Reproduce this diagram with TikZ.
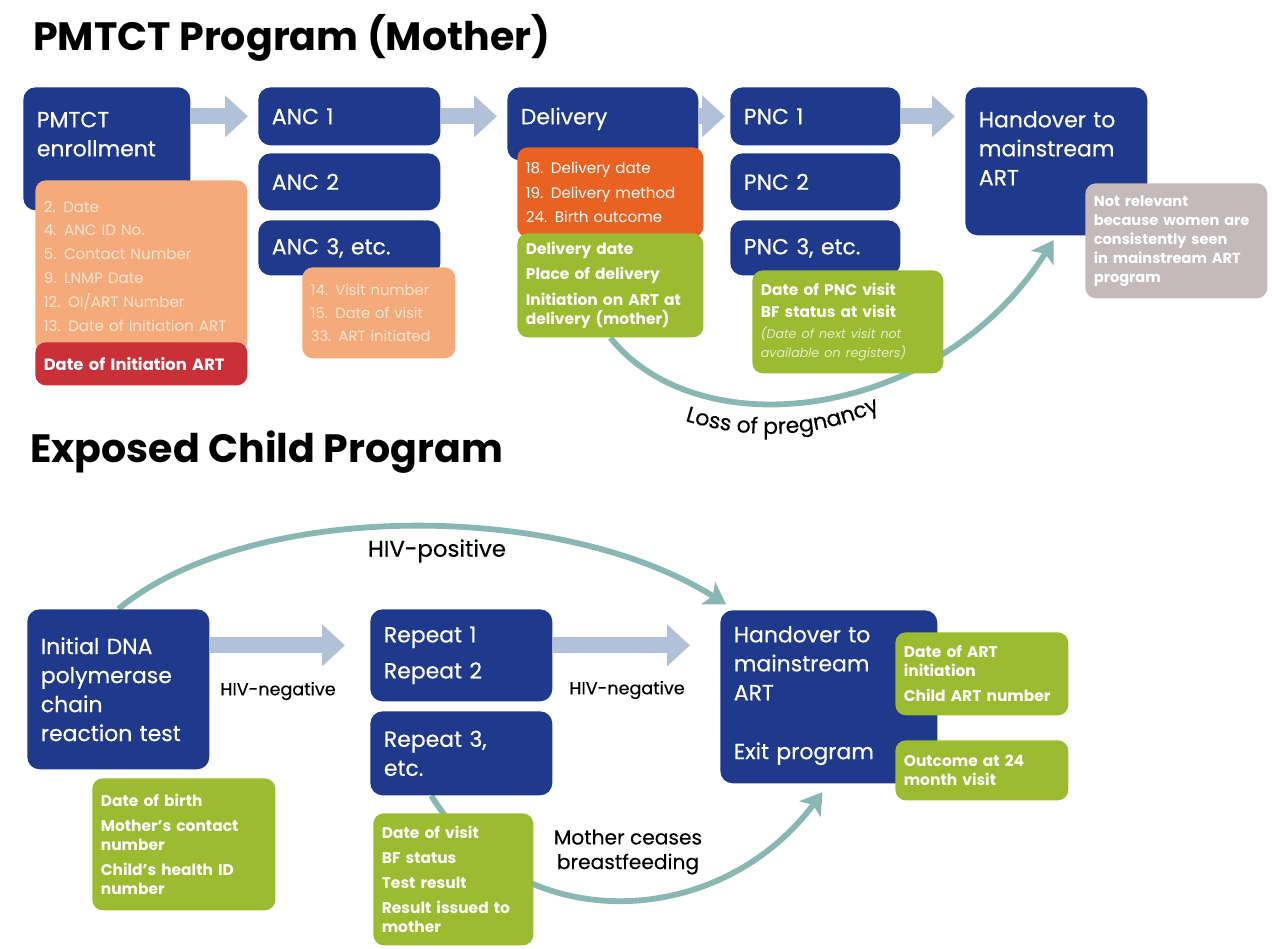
\documentclass[tikz,border=0pt]{standalone}
\usepackage{fontspec}
\setmainfont{Poppins}
\usetikzlibrary{arrows.meta,decorations.text}

\definecolor{stageblue}{RGB}{31,57,140}
\definecolor{recgreen}{RGB}{155,187,48}
\definecolor{recpeach}{RGB}{244,170,122}
\definecolor{peachtext}{RGB}{253,228,208}
\definecolor{recorange}{RGB}{234,98,34}
\definecolor{recred}{RGB}{202,48,56}
\definecolor{recgrey}{RGB}{196,186,187}
\definecolor{flowgrey}{RGB}{177,194,216}
\definecolor{linkteal}{RGB}{137,183,180}

\pgfdeclarelayer{background}
\pgfsetlayers{background,main}

\begin{document}
\begin{tikzpicture}[x=0.02cm, y=-0.02cm,
    stage/.style={
      rounded corners=7pt,
      fill=stageblue,
      text=white,
      anchor=north west,
      align=left,
      inner xsep=0.27cm,
      inner ysep=0.2cm,
      font=\fontsize{12.5}{16.5}\selectfont\addfontfeature{FakeBold=0.4}
    },
    record/.style={
      rounded corners=6pt,
      anchor=north west,
      align=left,
      inner xsep=0.17cm,
      inner ysep=0.1cm,
      text=white,
      font=\fontsize{8.8}{10.8}\selectfont\bfseries
    },
    flow/.style={draw=flowgrey, line width=9pt, -{Triangle[length=13pt,width=23pt]}, shorten >=0.2cm},
    link/.style={draw=linkteal, line width=3.3pt, -{Stealth[length=12pt,width=15pt,inset=3pt]}},
    heading/.style={anchor=base west, font=\fontsize{22.5}{26}\selectfont\bfseries},
    caption/.style={align=center, font=\fontsize{11.5}{14}\selectfont\addfontfeature{FakeBold=0.3}},
    tag/.style={font=\fontsize{10}{12}\selectfont\addfontfeature{FakeBold=0.3}}
  ]
  \useasboundingbox (0,0) rectangle (1272,949);

  % headings
  \node[heading] (title-mother) at (27,51) {PMTCT Program (Mother)};
  \node[heading] (title-child) at (24,463) {Exposed Child Program};

  % mother: stages
  \node[stage, text width=2.8cm, text height=0.6cm, text depth=1.46cm] (pmtct) at (23,87) {PMTCT\\enrollment};
  \node[stage, text width=3.1cm, minimum height=1.16cm] (anc1) at (258,87) {ANC 1};
  \node[stage, text width=3.1cm, minimum height=1.14cm] (anc2) at (258,153) {ANC 2};
  \node[stage, text width=3.1cm, minimum height=1.1cm] (anc3) at (258,220) {ANC 3, etc.};
  \node[stage, text width=3.28cm, text height=0.54cm, text depth=0.52cm] (delivery) at (507,87) {Delivery};
  \node[stage, text width=2.86cm, minimum height=1.16cm] (pnc1) at (730,87) {PNC 1};
  \node[stage, text width=2.86cm, minimum height=1.14cm] (pnc2) at (730,153) {PNC 2};
  \node[stage, text width=2.86cm, minimum height=1.1cm] (pnc3) at (730,220) {PNC 3, etc.};
  \node[stage, text width=3.1cm, text height=0.6cm, text depth=1.96cm] (hotop) at (965,87) {Handover to\\mainstream\\ART};

  \draw[flow] (pmtct.east |- anc1.west) -- (anc1.west);
  \draw[flow] (anc1.east) -- (anc1.east -| delivery.west);
  \draw[flow, shorten >=0.1cm] (delivery.east |- pnc1.west) -- (pnc1.west);
  \draw[flow] (pnc1.east) -- (pnc1.east -| hotop.west);

  % mother: register fields
  \node[record, fill=recpeach, text=peachtext, font=\fontsize{8.6}{13.6}\selectfont, text width=3.9cm, minimum height=3.44cm] (enrol-data) at (35,180)
    {2. Date\\4. ANC ID No.\\5. Contact Number\\9. LNMP Date\\12. OI/ART Number\\13. Date of Initiation ART};
  \node[record, fill=recred, font=\fontsize{9.3}{11}\selectfont\bfseries, text width=3.9cm, minimum height=0.86cm] (enrol-new) at (35,342) {Date of Initiation ART};
  \node[record, fill=recpeach, text=peachtext, font=\fontsize{8.4}{13.2}\selectfont, text width=2.72cm, minimum height=1.82cm] (anc-data) at (302,267)
    {14. Visit number\\15. Date of visit\\33. ART initiated};
  \node[record, fill=recorange, font=\fontsize{8.6}{14}\selectfont, text width=3.38cm, minimum height=1.8cm] (del-data) at (517,147)
    {18. Delivery date\\19. Delivery method\\24. Birth outcome};
  \node[record, fill=recgreen, text width=3.38cm, minimum height=2.08cm] (del-new) at (517,233)
    {Delivery date\\[3.5pt]Place of delivery\\[3.5pt]Initiation on ART at\\delivery (mother)};
  \node[record, fill=recgreen, text width=3.48cm, minimum height=2.06cm] (pnc-new) at (752,270)
    {Date of PNC visit\\[2pt]BF status at visit\\[1pt]{\color{white!75!recgreen}\mdseries\itshape\fontsize{7.2}{9.6}\selectfont (Date of next visit not}\\{\color{white!75!recgreen}\mdseries\itshape\fontsize{7.2}{9.6}\selectfont available on registers)}};
  \node[record, fill=recgrey, font=\fontsize{8.3}{10.8}\selectfont\bfseries, text width=3.3cm, minimum height=2.3cm] (ho-note) at (1085,183)
    {Not relevant\\because women are\\consistently seen\\in mainstream ART\\program};

  % child: stages
  \node[stage, text width=3.1cm, minimum height=3.2cm] (dna) at (27,609) {Initial DNA\\polymerase\\chain\\reaction test};
  \node[stage, text width=3.1cm, minimum height=1.84cm] (rep12) at (370,609) {Repeat 1\\[4pt]Repeat 2};
  \node[stage, text width=3.1cm, minimum height=1.68cm] (rep3) at (370,711) {Repeat 3,\\etc.};
  \node[stage, text width=3.8cm, text height=0.44cm, text depth=2.62cm] (ho2) at (720,610) {Handover to\\mainstream\\ART\\[17pt]Exit program};

  \draw[flow, shorten >=0.5cm, transform canvas={yshift=0.2cm}] (dna.east |- rep12.west) -- (rep12.west);
  \draw[flow, shorten >=0.6cm, transform canvas={yshift=0.2cm}] (rep12.east) -- (rep12.east -| ho2.west);

  \node[tag] (neg-first) at (278,691) {HIV-negative};
  \node[tag] (neg-repeat) at (627,690) {HIV-negative};
  \node[caption, font=\fontsize{13}{15}\selectfont\addfontfeature{FakeBold=0.3}] (hiv-pos) at (437,551) {HIV-positive};
  \node[caption] (bf-stop) at (628,852) {Mother ceases\\breastfeeding};

  % child: register fields
  \node[record, fill=recgreen, text width=3.32cm, minimum height=2.64cm] (dna-new) at (92,778)
    {Date of birth\\[3.5pt]Mother’s contact\\number\\[3.5pt]Child’s health ID\\number};
  \node[record, fill=recgreen, text width=2.86cm, minimum height=2.64cm] (rep-new) at (373,813)
    {Date of visit\\[3.5pt]BF status\\[3.5pt]Test result\\[3.5pt]Result issued to\\mother};
  \node[record, fill=recgreen, text width=3.12cm, minimum height=1.66cm] (art-new) at (895,632)
    {Date of ART\\initiation\\[3.5pt]Child ART number};
  \node[record, fill=recgreen, text width=3.12cm, minimum height=1.2cm] (exit-new) at (895,740)
    {Outcome at 24\\month visit};

  % curved exits
  \begin{pgfonlayer}{background}
    \draw[link, shorten >=3pt] (del-new.south) .. controls (700,450) and (940,420) .. (hotop.south);
    \path[decorate, decoration={text along path, text align=center,
        text={|\fontsize{12.5}{14}\selectfont\addfontfeature{FakeBold=0.3}|Loss of pregnancy}}]
      (668,415) .. controls (740,442) and (822,442) .. (896,402);
    \draw[link, shorten >=6pt] (dna.north) .. controls (250,500) and (560,500) .. ([xshift=0.3cm]ho2.north west);
    \draw[link, shorten >=6pt] ([xshift=-0.6cm]rep3.south) .. controls (520,940) and (720,930) .. (ho2.south);
  \end{pgfonlayer}
\end{tikzpicture}
\end{document}
